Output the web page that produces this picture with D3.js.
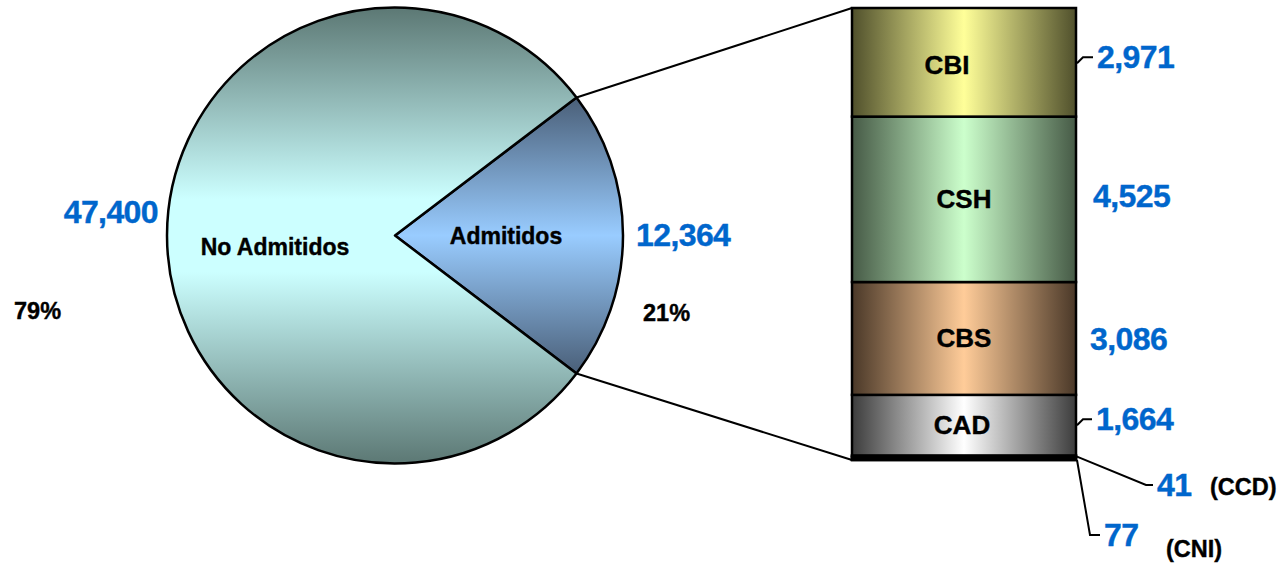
<!DOCTYPE html>
<html>
<head>
<meta charset="utf-8">
<script src="https://cdn.jsdelivr.net/npm/d3@7/dist/d3.min.js"></script>
<style>
html,body{margin:0;padding:0;background:#fff;}
svg{display:block;font-family:"Liberation Sans",Arial,sans-serif;font-weight:bold;}
text{paint-order:stroke;stroke-width:0.4px;}
</style>
</head>
<body>
<svg id="chart" width="1285" height="569"></svg>
<script>
// ---- data ----
const pieLabels = ["Admitidos", "No Admitidos"];
const pieValues = [12364, 47400];
const pieValueLabels = ["12,364", "47,400"];
const piePctLabels = ["21%", "79%"];

const barCategories = ["CNI", "CCD", "CAD", "CBS", "CSH", "CBI"];   // bottom to top
const barValues = [77, 41, 1664, 3086, 4525, 2971];
const barValueLabels = ["77", "41", "1,664", "3,086", "4,525", "2,971"];

// ---- layout ----
const svg = d3.select("#chart");
const cx = 395, cy = 235.5, R = 228;
const barX0 = 852, barX1 = 1076, barTop = 8, barBottom = 460;
const blue = "#0066cc";

const defs = svg.append("defs");
// pie gradients
const gNo = defs.append("linearGradient").attr("id", "gNo")
  .attr("gradientUnits", "userSpaceOnUse").attr("x1", 0).attr("x2", 0)
  .attr("y1", -R).attr("y2", R);
[[0, "#5c7874"], [0.42, "#ccffff"], [0.58, "#ccffff"], [1, "#5c7874"]].forEach(s =>
  gNo.append("stop").attr("offset", s[0]).attr("stop-color", s[1]));
const gAd = defs.append("linearGradient").attr("id", "gAd")
  .attr("x1", 0).attr("x2", 0).attr("y1", 0).attr("y2", 1);
[[0, "#4a5f78"], [0.5, "#99ccff"], [1, "#4a5f78"]].forEach(s =>
  gAd.append("stop").attr("offset", s[0]).attr("stop-color", s[1]));

// bar gradients
const barColors = {
  CBI: ["#50502c", "#ffff99"],
  CSH: ["#465a46", "#ccffcc"],
  CBS: ["#4a3828", "#ffcc99"],
  CAD: ["#3c3c3c", "#ffffff"],
  CCD: ["#000000", "#000000"],
  CNI: ["#000000", "#000000"]
};
Object.keys(barColors).forEach(k => {
  const g = defs.append("linearGradient").attr("id", "g" + k)
    .attr("x1", 0).attr("x2", 1).attr("y1", 0).attr("y2", 0);
  g.append("stop").attr("offset", 0).attr("stop-color", barColors[k][0]);
  g.append("stop").attr("offset", 0.5).attr("stop-color", barColors[k][1]);
  g.append("stop").attr("offset", 1).attr("stop-color", barColors[k][0]);
});

// ---- pie ----
const total = d3.sum(pieValues);
const half = Math.PI * pieValues[0] / total;
const pie = d3.pie().sort(null).value(d => d)
  .startAngle(Math.PI / 2 - half).endAngle(Math.PI / 2 - half + 2 * Math.PI);
const arcs = pie(pieValues);
const arc = d3.arc().innerRadius(0).outerRadius(R);
const pg = svg.append("g").attr("transform", `translate(${cx},${cy})`);
pg.selectAll("path").data(arcs).enter().append("path")
  .attr("d", arc)
  .attr("fill", (d, i) => i === 0 ? "url(#gAd)" : "url(#gNo)")
  .attr("stroke", "#000").attr("stroke-width", 2.5).attr("stroke-linejoin", "round");

// connector lines from slice edges to bar
const pt = a => [cx + R * Math.sin(a), cy - R * Math.cos(a)];
const pA = pt(arcs[0].startAngle), pB = pt(arcs[0].endAngle);
svg.append("line").attr("x1", pA[0]).attr("y1", pA[1]).attr("x2", barX0).attr("y2", barTop)
  .attr("stroke", "#000").attr("stroke-width", 2);
svg.append("line").attr("x1", pB[0]).attr("y1", pB[1]).attr("x2", barX0).attr("y2", barBottom)
  .attr("stroke", "#000").attr("stroke-width", 2);

// pie labels
svg.append("text").attr("x", 506).attr("y", 244).attr("text-anchor", "middle")
  .attr("font-size", 23).attr("stroke", "#000").text(pieLabels[0]);
svg.append("text").attr("x", 275).attr("y", 255).attr("text-anchor", "middle")
  .attr("font-size", 23).attr("stroke", "#000").text(pieLabels[1]);
svg.append("text").attr("x", 636).attr("y", 246).attr("font-size", 32)
  .attr("letter-spacing", -0.6).attr("fill", blue).attr("stroke", blue).text(pieValueLabels[0]);
svg.append("text").attr("x", 158).attr("y", 223).attr("text-anchor", "end").attr("font-size", 32)
  .attr("letter-spacing", -0.6).attr("fill", blue).attr("stroke", blue).text(pieValueLabels[1]);
svg.append("text").attr("x", 643).attr("y", 321).attr("font-size", 23.5).attr("stroke", "#000").text(piePctLabels[0]);
svg.append("text").attr("x", 14).attr("y", 319).attr("font-size", 23.5).attr("stroke", "#000").text(piePctLabels[1]);

// ---- stacked bar ----
const barTotal = d3.sum(barValues);
const y = d3.scaleLinear().domain([0, barTotal]).range([barBottom, barTop]);
let acc = 0;
const segs = barCategories.map((c, i) => {
  const s = { cat: c, v: barValues[i], label: barValueLabels[i], y0: acc, y1: acc + barValues[i] };
  acc += barValues[i];
  return s;
});
const bg = svg.append("g");
bg.selectAll("rect").data(segs).enter().append("rect")
  .attr("x", barX0).attr("width", barX1 - barX0)
  .attr("y", d => y(d.y1)).attr("height", d => y(d.y0) - y(d.y1))
  .attr("fill", d => `url(#g${d.cat})`)
  .attr("stroke", "#000").attr("stroke-width", 2.5);
// thick black base (CCD + CNI)
bg.append("rect").attr("x", barX0).attr("width", barX1 - barX0)
  .attr("y", y(segs[1].y1)).attr("height", y(0) - y(segs[1].y1))
  .attr("fill", "#000").attr("stroke", "#000").attr("stroke-width", 2.5);

// category labels inside big segments
const catDx = { CBI: -17, CSH: 0, CBS: 0, CAD: -2 };
const catDy = { CBI: 12, CSH: 9, CBS: 9, CAD: 9 };
segs.filter(d => catDx[d.cat] !== undefined).forEach(d => {
  const mid = (y(d.y0) + y(d.y1)) / 2;
  svg.append("text").attr("x", (barX0 + barX1) / 2 + catDx[d.cat]).attr("y", mid + catDy[d.cat])
    .attr("text-anchor", "middle").attr("font-size", 26).attr("stroke", "#000").text(d.cat);
});

// value labels with leaders
const valPos = {
  CBI: { x: 1097, dy: 6, leader: true },
  CSH: { x: 1093, dy: 8 },
  CBS: { x: 1090, dy: 12 },
  CAD: { x: 1096, dy: 5, leader: true }
};
segs.filter(d => valPos[d.cat]).forEach(d => {
  const mid = (y(d.y0) + y(d.y1)) / 2;
  const p = valPos[d.cat];
  const by = mid + p.dy;
  svg.append("text").attr("x", p.x).attr("y", by).attr("font-size", 32)
    .attr("letter-spacing", -0.6).attr("fill", blue).attr("stroke", blue).text(d.label);
  if (p.leader) {
    const ly = by - 11;
    svg.append("polyline")
      .attr("points", `${barX1 + 1},${ly + 6} ${barX1 + 7},${ly} ${p.x - 4},${ly}`)
      .attr("fill", "none").attr("stroke", "#000").attr("stroke-width", 2);
  }
});

// small segments (CCD, CNI)
const ccd = segs[1], cni = segs[0];
svg.append("polyline")
  .attr("points", `${barX1 + 1},${y(ccd.y1) + 1} 1146,485 1153,485`)
  .attr("fill", "none").attr("stroke", "#000").attr("stroke-width", 2);
svg.append("text").attr("x", 1157).attr("y", 496).attr("font-size", 32)
  .attr("letter-spacing", -0.6).attr("fill", blue).attr("stroke", blue).text(ccd.label);
svg.append("text").attr("x", 1210).attr("y", 495).attr("font-size", 23.5).attr("stroke", "#000").text("(" + ccd.cat + ")");

svg.append("polyline")
  .attr("points", `${barX1 + 1},${y(0)} 1090,535 1100,535`)
  .attr("fill", "none").attr("stroke", "#000").attr("stroke-width", 2);
svg.append("text").attr("x", 1104).attr("y", 546).attr("font-size", 32)
  .attr("letter-spacing", -0.6).attr("fill", blue).attr("stroke", blue).text(cni.label);
svg.append("text").attr("x", 1166).attr("y", 557).attr("font-size", 23.5).attr("stroke", "#000").text("(" + cni.cat + ")");
</script>
</body>
</html>
